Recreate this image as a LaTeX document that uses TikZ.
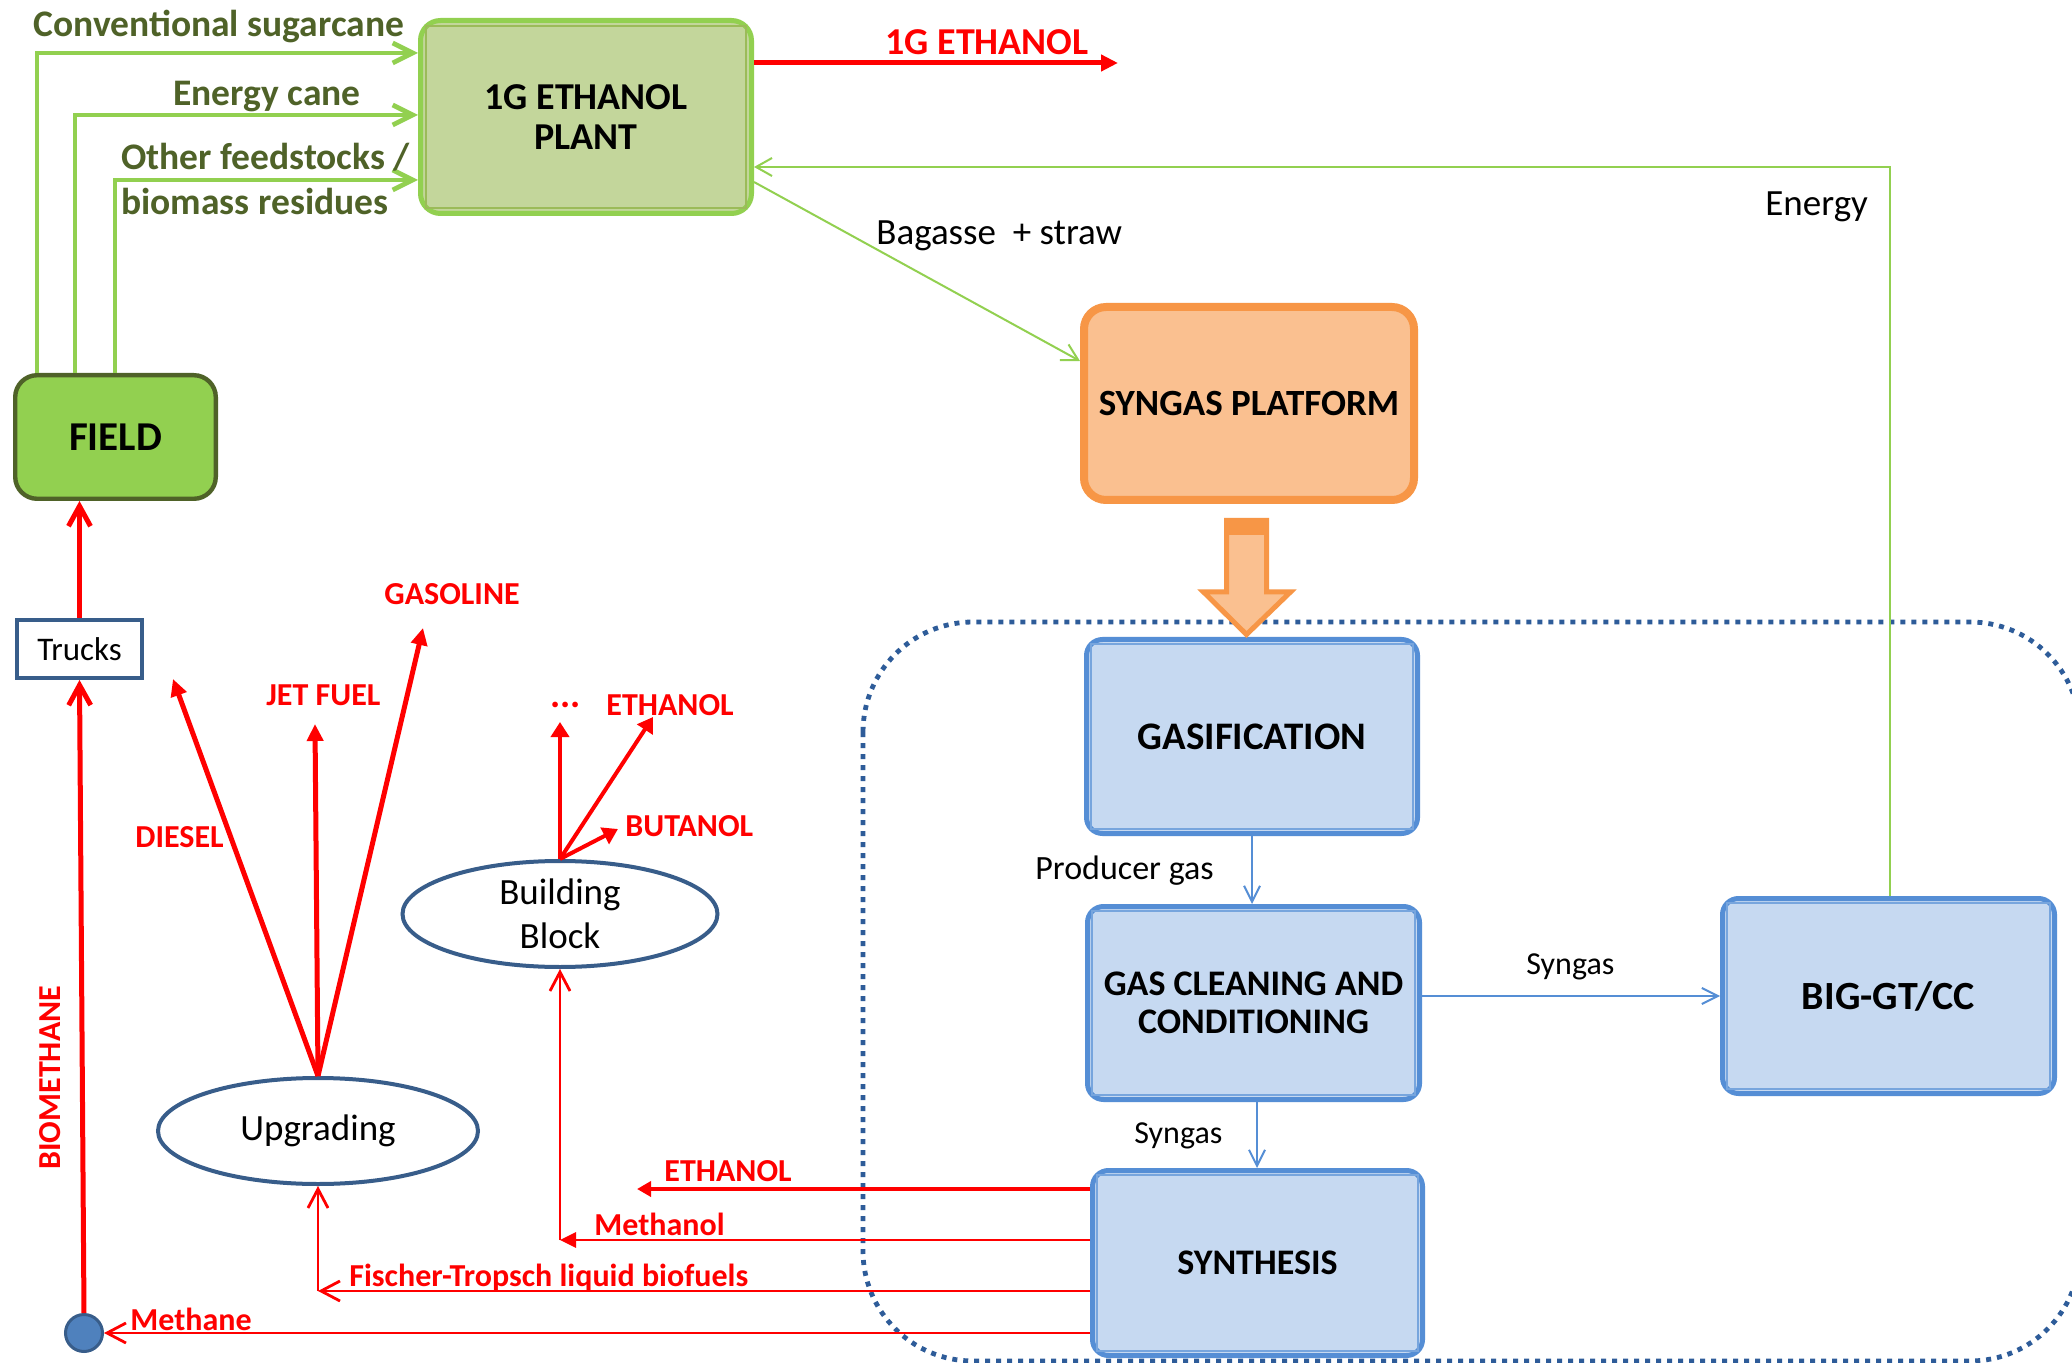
\documentclass[tikz,border=0pt]{standalone}
\usepackage{fontspec}
\setmainfont{Carlito}
\usetikzlibrary{arrows.meta,shapes.geometric,calc}
\definecolor{lgreen}{HTML}{92D050}
\definecolor{dgreen}{HTML}{4F6228}
\definecolor{plantfill}{HTML}{C3D69B}
\definecolor{plantin}{HTML}{9BBB59}
\definecolor{ofill}{HTML}{FAC090}
\definecolor{oline}{HTML}{F79646}
\definecolor{bfill}{HTML}{C6D9F1}
\definecolor{bline}{HTML}{558ED5}
\definecolor{cfill}{HTML}{4F81BD}
\definecolor{navy}{HTML}{385D8A}
\definecolor{dotc}{HTML}{2E5C99}
\definecolor{rd}{HTML}{FF0000}
\newcommand\fsz[2]{\fontsize{#1}{#2}\selectfont}
\tikzset{
  box/.style={rectangle, inner sep=0pt, align=center, text=black},
  bluebox/.style={box, fill=bfill, draw=bline, line width=2.5pt, rounded corners=8pt},
  lbl/.style={anchor=base west, inner sep=0pt},
  glbl/.style={lbl, text=dgreen, font=\bfseries\fsz{18.75}{22}},
  rlbl/.style={lbl, text=rd, font=\bfseries\fsz{16}{19}},
  klbl/.style={lbl, text=black, font=\fsz{18.5}{22}},
  garrow/.style={draw=lgreen, line width=2.4pt, -{Straight Barb[length=10pt,width=10pt]}},
  gthin/.style={draw=lgreen, line width=1pt, -{Straight Barb[length=8pt,width=9pt]}},
  bthin/.style={draw=bline, line width=1pt, -{Straight Barb[length=8pt,width=8pt]}},
  rray/.style={draw=rd, line width=2.5pt, -{Triangle[length=8.5pt,width=8pt]}},
  rray2/.style={draw=rd, line width=2pt, -{Triangle[length=7.5pt,width=9pt]}},
  rbig/.style={draw=rd, line width=2.5pt, -{Straight Barb[length=10pt,width=11pt]}},
  rthin/.style={draw=rd, line width=1.4pt, -{Straight Barb[length=9.5pt,width=10pt]}},
  rthintri/.style={draw=rd, line width=1.4pt, -{Triangle[length=8pt,width=7.5pt]}},
  innerb/.style={draw=bline!80, line width=0.8pt},
}
\begin{document}
\begin{tikzpicture}[x=0.5pt,y=-0.5pt]
\useasboundingbox (0,0) rectangle (2072,1363);
\clip (0,0) rectangle (2072,1363);
\fill[white] (0,0) rectangle (2072,1363);

% dotted region
\draw[dotc, line width=2.4pt, dash pattern=on 2.5pt off 3pt, rounded corners=55pt] (863,622) rectangle (2080,1361);

% boxes
\node[box, fill=plantfill, draw=lgreen, line width=2.5pt, rounded corners=10pt,
      minimum width=165.5pt, minimum height=96.5pt, font=\bfseries\fsz{19}{20}] (plant) at (586,117) {1G ETHANOL\\PLANT};
\draw[plantin, line width=0.8pt] ([shift={(4pt,-4pt)}]plant.north west) rectangle ([shift={(-4pt,4pt)}]plant.south east);
\node[box, fill=lgreen, draw=dgreen, line width=2.2pt, rounded corners=11pt,
      minimum width=100.3pt, minimum height=61.8pt, font=\bfseries\fsz{20.5}{22}] (field) at (115.5,437) {FIELD};
\node[box, fill=white, draw=navy, line width=1.8pt,
      minimum width=62.7pt, minimum height=29.2pt, font=\fsz{16.5}{19}] (trucks) at (79.5,649) {Trucks};
\node[box, fill=ofill, draw=oline, line width=4pt, rounded corners=11pt,
      minimum width=165pt, minimum height=96.5pt, font=\bfseries\fsz{18.5}{20}] (syngas) at (1249,403.5) {SYNGAS PLATFORM};
\node[bluebox, minimum width=165.5pt, minimum height=97pt, font=\bfseries\fsz{19.5}{21}] (gasif) at (1252,736.5) {GASIFICATION};
\node[bluebox, minimum width=166pt, minimum height=96.5pt, font=\bfseries\fsz{18}{19}] (clean) at (1253.5,1003) {GAS CLEANING AND\\CONDITIONING};
\node[bluebox, minimum width=166pt, minimum height=97.5pt, font=\bfseries\fsz{20}{22}] (big) at (1888.5,996) {BIG-GT/CC};
\node[bluebox, minimum width=165pt, minimum height=92.5pt, font=\bfseries\fsz{18}{20}] (synth) at (1257.5,1263) {SYNTHESIS};
\foreach \b in {gasif,clean,big,synth}{
  \draw[innerb] ([shift={(3.5pt,-3.5pt)}]\b.north west) rectangle ([shift={(-3.5pt,3.5pt)}]\b.south east);
}
\node[ellipse, draw=navy, line width=2pt, minimum width=160pt, minimum height=53pt, inner sep=0pt,
      font=\fsz{18.5}{22}] (upg) at (318,1131) {Upgrading};
\node[ellipse, draw=navy, line width=2pt, minimum width=157.5pt, minimum height=53pt, inner sep=0pt,
      align=center, font=\fsz{18.5}{22}] (bb) at (560,914) {Building\\Block};
\node[circle, fill=cfill, draw=navy, line width=1.5pt, minimum size=18.5pt, inner sep=0pt] (circ) at (84,1333) {};

% orange block arrow
\filldraw[fill=ofill, draw=oline, line width=2.5pt, line join=miter]
  (1226.5,520.5) -- (1266.5,520.5) -- (1266.5,592) -- (1290.5,592) -- (1246.5,634.5)
  -- (1203.5,592) -- (1226.5,592) -- cycle;
\fill[oline] (1224,518) rectangle (1269,535);

% green feed arrows
\coordinate (cs) at (37,53);
\coordinate (ec) at (75,115);
\coordinate (of) at (115,180);
\draw[garrow] (field.north -| cs) |- (plant.west |- cs);
\draw[garrow] (field.north -| ec) |- (plant.west |- ec);
\draw[garrow] (field.north -| of) |- (plant.west |- of);
\node[glbl] (l_conv) at (33,37) {Conventional sugarcane};
\node[glbl] (l_ecane) at (173,106) {Energy cane};
\node[glbl] (l_other) at (121,170) {Other feedstocks /};
\node[glbl] (l_bres) at (121,215) {biomass residues};

% energy and bagasse
\coordinate (en) at (1890,167);
\draw[gthin] (big.north -| en) |- (plant.east |- en);
\coordinate (bg1) at (0,182);
\coordinate (bg2) at (0,361);
\draw[gthin] (plant.east |- bg1) -- (syngas.west |- bg2);
\node[klbl] (l_energy) at (1765,216) {Energy};
\node[klbl] (l_bag) at (876,245) {Bagasse\ \ + straw};

% 1G ethanol output
\coordinate (eth1) at (1118,63);
\draw[rray] (plant.east |- eth1) -- (eth1);
\node[lbl, text=rd, font=\bfseries\fsz{19}{21}] (l_1g) at (885,55) {1G ETHANOL};

% blue process arrows
\draw[bthin] (gasif.south) -- (gasif.south |- clean.north);
\coordinate (sg) at (1257,0);
\draw[bthin] (clean.south -| sg) -- (synth.north -| sg);
\draw[bthin] (clean.east |- big.west) -- (big.west);
\node[lbl, font=\fsz{17}{20}] (l_prod) at (1035,879) {Producer gas};
\node[lbl, font=\fsz{16}{19}] (l_sg1) at (1526,974) {Syngas};
\node[lbl, font=\fsz{16}{19}] (l_sg2) at (1134,1143) {Syngas};

% upgrading products
\coordinate (dsl) at (173,679);
\coordinate (jet) at (315,724);
\coordinate (gsl) at (423,628);
\draw[rray] (upg.north) -- (dsl);
\draw[rray] (upg.north) -- (jet);
\draw[rray] (upg.north) -- (gsl);
\node[rlbl] (l_gas) at (384,605) {GASOLINE};
\node[rlbl] (l_jet) at (266,705) {JET FUEL};
\node[rlbl] (l_dsl) at (135,847) {DIESEL};

% building block products
\coordinate (dts) at (563,722);
\coordinate (eth2) at (653,717);
\coordinate (but) at (618,829);
\draw[rray2] (bb.north) -- (bb.north |- dts);
\draw[rray2] (bb.north) -- (eth2);
\draw[rray2] (bb.north) -- (but);
\node[lbl, text=rd, font=\bfseries\fsz{19}{21}] (l_dots) at (550,707) {...};
\node[rlbl] (l_eth2) at (606,715) {ETHANOL};
\node[rlbl] (l_but) at (625,836) {BUTANOL};

% synthesis outputs
\coordinate (eth3) at (637,1189);
\draw[draw=rd, line width=2pt, -{Triangle[length=7pt,width=7.5pt]}] (synth.west |- eth3) -- (eth3);
\node[rlbl] (l_eth3) at (664,1181) {ETHANOL};
\coordinate (mr) at (0,1240);
\coordinate (mc) at (bb.south |- mr);
\draw[rthintri] (synth.west |- mr) -- (mc);
\draw[rthin] (mc) -- (bb.south);
\node[rlbl] (l_meth) at (594,1235) {Methanol};
\coordinate (fr) at (0,1291);
\coordinate (fc) at (upg.south |- fr);
\draw[rthin] (synth.west |- fr) -- (fc);
\draw[rthin] (fc) -- (upg.south);
\node[rlbl] (l_ft) at (349,1286) {Fischer-Tropsch liquid biofuels};
\draw[rthin] (synth.west |- circ) -- (circ.east);
\node[rlbl] (l_mth) at (130,1330) {Methane};

% biomethane route
\draw[rbig] (circ.north) -- (trucks.south);
\draw[rbig] (trucks.north) -- (trucks.north |- field.south);
\node[rlbl, rotate=90] (l_biom) at (61,1170) {BIOMETHANE};
\end{tikzpicture}
\end{document}
